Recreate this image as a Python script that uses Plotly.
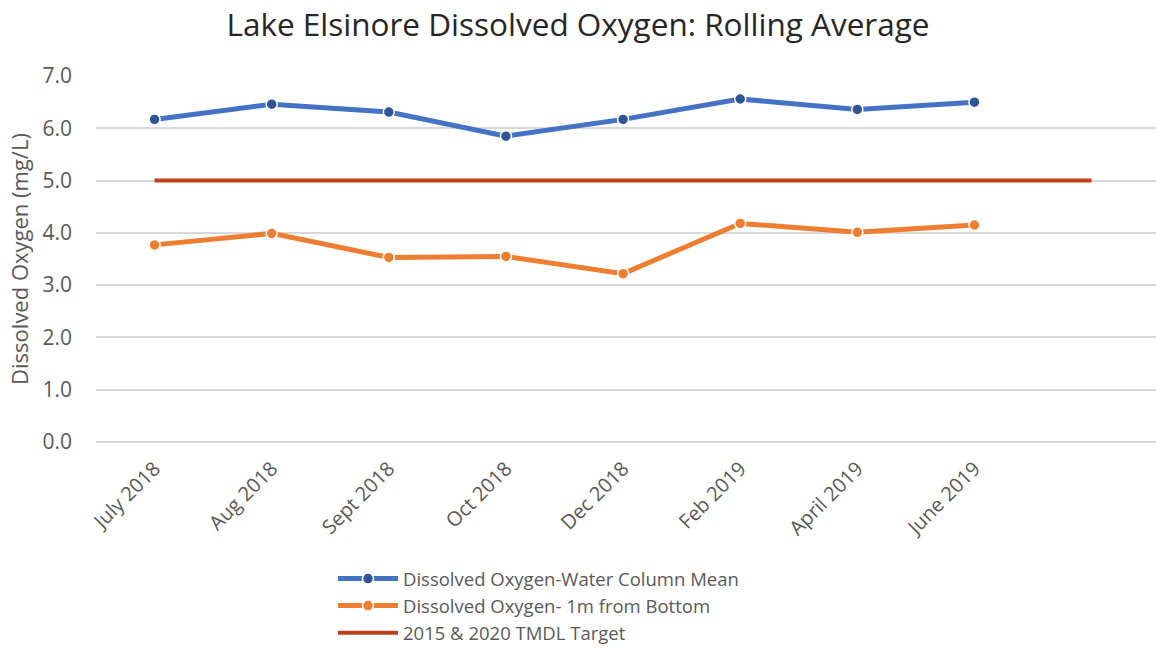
import plotly.graph_objects as go

months = ["July 2018", "Aug 2018", "Sept 2018", "Oct 2018", "Dec 2018",
          "Feb 2019", "April 2019", "June 2019", " "]
water_column_mean = [6.17, 6.46, 6.31, 5.85, 6.17, 6.56, 6.36, 6.50]
one_m_from_bottom = [3.77, 3.99, 3.53, 3.55, 3.22, 4.18, 4.01, 4.15]
tmdl_target = [5.0] * 9
y_ticks = [0, 1, 2, 3, 4, 5, 6, 7]

font_family = "Open Sans, Noto Sans, sans-serif"
gray = "#595959"

# plot area in pixels, used to place the legend below it
W, H = 1156, 649
L, R, T, B = 96, 0, 76, 207
plot_w, plot_h = W - L - R, H - T - B

fig = go.Figure()
fig.add_trace(go.Scatter(
    x=months[:len(water_column_mean)], y=water_column_mean,
    name="Dissolved Oxygen-Water Column Mean",
    mode="lines+markers",
    line=dict(color="#4472C4", width=5),
    marker=dict(size=11, color="#2F5597", line=dict(color="white", width=1.5)),
))
fig.add_trace(go.Scatter(
    x=months[:len(one_m_from_bottom)], y=one_m_from_bottom,
    name="Dissolved Oxygen- 1m from Bottom",
    mode="lines+markers",
    line=dict(color="#ED7D31", width=5),
    marker=dict(size=11, color="#ED7D31", line=dict(color="white", width=1.5)),
))
fig.add_trace(go.Scatter(
    x=months, y=tmdl_target,
    name="2015 & 2020 TMDL Target",
    mode="lines",
    line=dict(color="#C0401E", width=4),
))

fig.update_layout(
    width=W, height=H,
    paper_bgcolor="white", plot_bgcolor="white",
    margin=dict(l=L, r=R, t=T, b=B, autoexpand=False),
    font=dict(family=font_family, color=gray),
    title=dict(
        text="Lake Elsinore Dissolved Oxygen: Rolling Average",
        x=0.5, xanchor="center", y=0.961, yanchor="middle",
        font=dict(size=31.5, color="#262626", family=font_family),
    ),
    showlegend=True,
    legend=dict(
        orientation="v",
        x=(333 - L) / plot_w, xanchor="left",
        y=(H - B - 560) / plot_h, yanchor="top",
        font=dict(size=18.5, color=gray), itemwidth=60, tracegroupgap=0,
        bgcolor="rgba(0,0,0,0)",
    ),
    xaxis=dict(
        type="category", categoryorder="array", categoryarray=months,
        range=[-0.5, 8.55], tickangle=-45,
        tickfont=dict(size=20, color=gray), ticklabelstandoff=10,
        showgrid=False, showline=False, zeroline=False, ticks="",
    ),
    yaxis=dict(
        range=[0, 7], tickvals=y_ticks, tickformat=".1f",
        tickfont=dict(size=21, color=gray),
        showgrid=True, gridcolor="#D9D9D9", gridwidth=1.5,
        zeroline=True, zerolinecolor="#D9D9D9", zerolinewidth=1.5,
        showline=False, ticks="", ticklabelstandoff=23,
        title=dict(text="Dissolved Oxygen (mg/L)", font=dict(size=22, color=gray),
                   standoff=7),
    ),
)

fig.write_html("out.html")
